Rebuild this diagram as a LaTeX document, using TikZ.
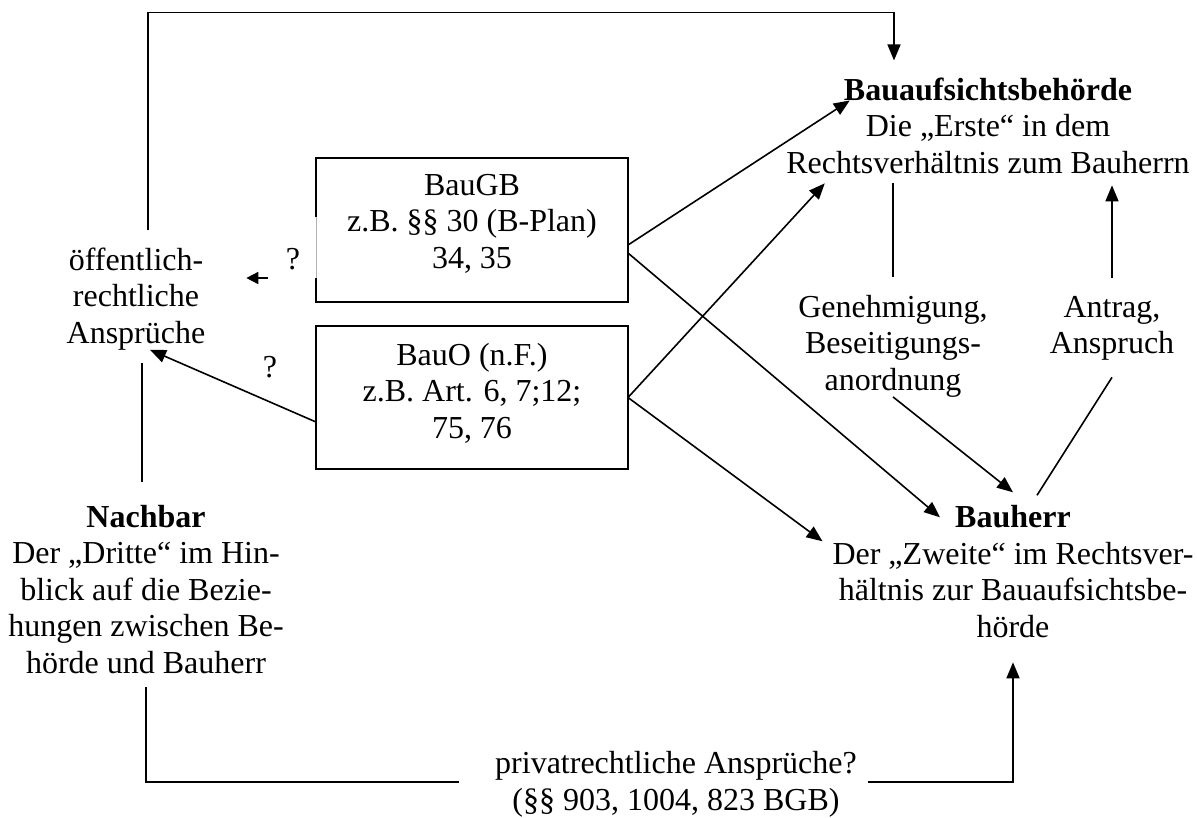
\documentclass[tikz,border=0pt]{standalone}
\usepackage{fontspec}
\setmainfont{Liberation Serif}
\usetikzlibrary{arrows.meta}
\begin{document}
\begin{tikzpicture}[x=1pt,y=-1pt,
  every node/.style={inner sep=0pt, outer sep=0pt},
  label text/.style={align=center, anchor=base, font=\fontsize{32pt}{36.5pt}\selectfont},
  lawbox/.style={draw, line width=1.8pt, minimum width=312pt, minimum height=144pt},
  conn/.style={line width=1.6pt},
  arr/.style={conn, -{Triangle[length=16pt,width=13pt]}},
]
\useasboundingbox (0,0) rectangle (1197,817);

% text blocks (placed by the baseline of their last line)
\node[label text] (behoerde) at (988,173) {\textbf{Bauaufsichtsbehörde}\\Die „Erste“ in dem\\Rechtsverhältnis zum Bauherrn};
\node[lawbox] (baugb) at (472,230) {};
\node[label text] (baugbtext) at (472,268) {BauGB\\z.B. §§ 30 (B-Plan)\\34, 35};
\node[lawbox, minimum height=143pt] (bauo) at (472,397.5) {};
\node[label text] (bauotext) at (472,438) {BauO (n.F.)\\z.B. Art. 6, 7;12;\\75, 76};
\node[label text] (oeff) at (136,343) {öffentlich-\\rechtliche\\Ansprüche};
\node[label text] (q1) at (293,269) {?};
\node[label text] (q2) at (270,377) {?};
\node[label text] (genehm) at (893,390) {Genehmigung,\\Beseitigungs-\\anordnung};
\node[label text] (antrag) at (1112,353.5) {Antrag,\\Anspruch};
\node[label text] (bauherr) at (1013,637) {\textbf{Bauherr}\\Der „Zweite“ im Rechtsver-\\hältnis zur Bauaufsichtsbe-\\hörde};
\node[label text] (nachbar) at (146,673) {\textbf{Nachbar}\\Der „Dritte“ im Hin-\\blick auf die Bezie-\\hungen zwischen Be-\\hörde und Bauherr};
\node[label text] (privat) at (676,810) {privatrechtliche Ansprüche?\\(§§ 903, 1004, 823 BGB)};

% faint stretch on the left edge of the BauGB box
\draw[white, line width=2.2pt] ([yshift=-59pt]baugb.north west) -- ([yshift=-120pt]baugb.north west);
\draw[gray!60, line width=0.6pt] ([yshift=-59pt]baugb.north west) -- ([yshift=-120pt]baugb.north west);

% top loop: public-law claims to the authority
\draw[arr] ([xshift=12pt,yshift=17pt]oeff.north) |- ([xshift=-94pt,yshift=65pt]behoerde.north) -- ([xshift=-94pt,yshift=17pt]behoerde.north);

% statutes to authority and builder
\draw[arr] ([yshift=-15pt]baugb.east) -- ([xshift=63.5pt,yshift=-23pt]behoerde.north west);
\draw[arr] ([yshift=-23pt]baugb.east) -- ([xshift=-73pt,yshift=-12pt]bauherr.north);
\draw[arr] (bauo.east) -- ([xshift=38.5pt,yshift=-10pt]behoerde.south west);
\draw[arr] (bauo.east) -- ([xshift=-10pt,yshift=-36pt]bauherr.north west);

% statutes to public-law claims
\coordinate (qtail) at ([xshift=-48pt,yshift=-48pt]baugb.west);
\coordinate (qtip) at ([xshift=41pt]oeff.east);
\draw[conn, -{Triangle[length=12pt,width=12pt]}] (qtail) -- (qtail -| qtip);
\draw[arr] ([yshift=-24.5pt]bauo.west) -- ([xshift=14pt]oeff.south);

% authority <-> builder
\draw[conn, shorten <=10pt, shorten >=18pt] (genehm.north |- behoerde.south) -- (genehm.north);
\draw[arr] (genehm.south) -- ([yshift=13pt]bauherr.north);
\draw[conn] ([xshift=24pt,yshift=10pt]bauherr.north) -- ([yshift=-17pt]antrag.south);
\draw[arr, shorten <=18pt, shorten >=12pt] (antrag.north) -- (antrag.north |- behoerde.south);

% neighbour
\draw[conn, shorten <=13pt, shorten >=23pt] ([xshift=6pt]oeff.south) -- ([xshift=6pt]oeff.south |- nachbar.north);
\draw[conn] ([yshift=-14pt]nachbar.south) |- ([xshift=-36pt,yshift=28pt]privat.base west);
\draw[arr] ([xshift=11pt,yshift=28pt]privat.base east) -| ([yshift=-25pt]bauherr.south);
\end{tikzpicture}
\end{document}
